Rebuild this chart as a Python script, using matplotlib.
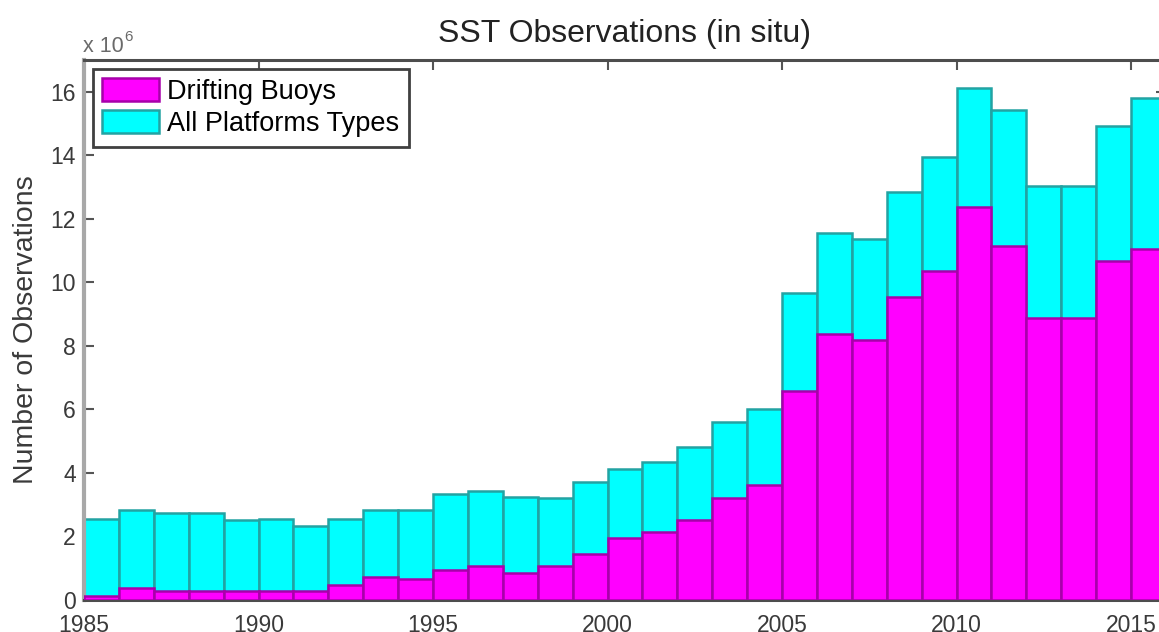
import matplotlib
matplotlib.use("Agg")
import matplotlib.pyplot as plt

# ---- data (values in units of 10^6 observations) ----
years = list(range(1985, 2016))
all_platforms = [2.54, 2.83, 2.73, 2.73, 2.52, 2.54, 2.34, 2.54, 2.83, 2.83,
                 3.34, 3.42, 3.23, 3.21, 3.71, 4.12, 4.33, 4.81, 5.60, 6.02,
                 9.66, 11.55, 11.36, 12.84, 13.95, 16.13, 15.43, 13.04, 13.04, 14.91,
                 15.80]
drifting_buoys = [0.12, 0.37, 0.27, 0.27, 0.27, 0.27, 0.27, 0.47, 0.73, 0.65,
                  0.94, 1.07, 0.84, 1.07, 1.44, 1.94, 2.13, 2.52, 3.22, 3.62,
                  6.59, 8.38, 8.19, 9.55, 10.37, 12.37, 11.16, 8.88, 8.88, 10.68,
                  11.05]
xticks = [1985, 1990, 1995, 2000, 2005, 2010, 2015]
yticks = [0, 2, 4, 6, 8, 10, 12, 14, 16]
title = "SST Observations (in situ)"
ylabel = "Number of Observations"
labels = ["Drifting Buoys", "All Platforms Types"]

plt.rcParams['font.family'] = ['Liberation Sans', 'DejaVu Sans']

W, H = 1159, 632
fig = plt.figure(figsize=(W / 100, H / 100), dpi=100)
fig.patch.set_facecolor('white')

left, right, top, bottom = 84, 1166, 60, 600
ax = fig.add_axes([left / W, 1 - bottom / H, (right - left) / W, (bottom - top) / H])

b_all = ax.bar(years, all_platforms, width=1.0, align='edge', color='#00ffff',
               edgecolor='#22a3a3', linewidth=1.8, zorder=2)
b_drift = ax.bar(years, drifting_buoys, width=1.0, align='edge', color='#ff00ff',
                 edgecolor='#a800aa', linewidth=1.8, zorder=3)

ax.set_xlim(1985, 2016)
ax.set_ylim(0, 17)
ax.set_xticks(xticks)
ax.set_yticks(yticks)
ax.tick_params(axis='both', direction='in', length=7, width=1.5, color='#555555',
               labelsize=16.5, labelcolor='#3a3a3a', top=True, right=True)
ax.tick_params(axis='x', pad=10)
ax.tick_params(axis='y', pad=6)

for s in ['top', 'bottom', 'right']:
    ax.spines[s].set_color('#4d4d4d')
    ax.spines[s].set_linewidth(2.2)
ax.spines['left'].set_color('#a8a8a8')
ax.spines['left'].set_linewidth(3)

ax.set_title(title, fontsize=23, color='#222222', pad=13)
ax.set_ylabel(ylabel, fontsize=20.5, color='#3a3a3a', labelpad=8)

# exponent label
fig.text(83 / W, 1 - 52 / H, "x 10", fontsize=15.5, color='#6a6a6a', ha='left', va='baseline')
fig.text(124 / W, 1 - 41 / H, "6", fontsize=11, color='#6a6a6a', ha='left', va='baseline')

leg = ax.legend([b_drift, b_all], labels, loc='upper left',
                bbox_to_anchor=(93 / W, 1 - 69 / H), bbox_transform=fig.transFigure,
                borderaxespad=0, fontsize=19.5, frameon=True, fancybox=False,
                handlelength=2.1, handleheight=0.9, handletextpad=0.3,
                labelspacing=0.2, borderpad=0.35)
leg.get_frame().set_edgecolor('#404040')
leg.get_frame().set_linewidth(2)
leg.get_frame().set_alpha(1)

fig.savefig('out.png', dpi=100)
